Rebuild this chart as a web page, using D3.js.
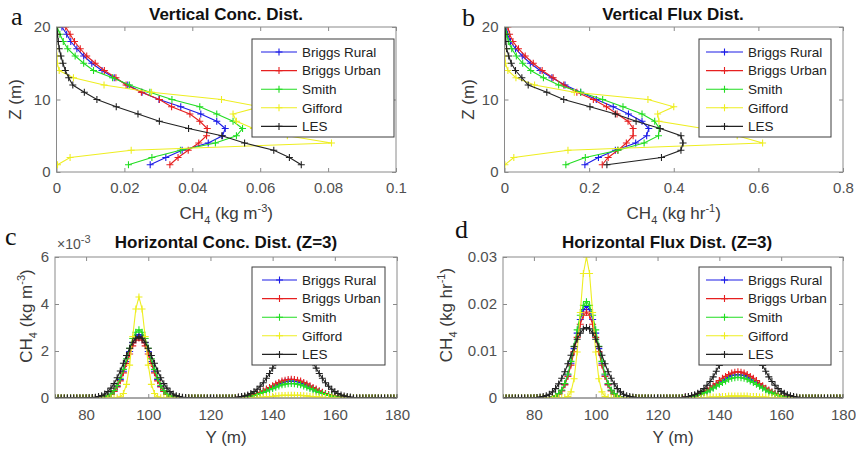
<!DOCTYPE html>
<html><head><meta charset="utf-8">
<script src="https://cdn.jsdelivr.net/npm/d3@7"></script>
<style>body{margin:0;background:#fff}svg{display:block}</style>
</head><body><svg id="chart" width="856" height="453"></svg>
<script>
// ---------- DATA ----------
const seriesNames = ["Briggs Rural", "Briggs Urban", "Smith", "Gifford", "LES"];
const seriesColors = ["#1c1ce6", "#e62020", "#22dd22", "#eeee22", "#222222"];

// Vertical profiles (Z in m)
const zLevels = [1,2,3,4,5,6,7,8,9,10,11,12,13,14,15,16,17,18,19,20];
const vConcRural  = [0.0276,0.0322,0.0370,0.0447,0.0489,0.0497,0.0472,0.0425,0.0366,0.0302,0.0252,0.0210,0.0170,0.0134,0.0104,0.0080,0.0060,0.0042,0.0030,0.0016];
const vConcUrban  = [0.0334,0.0358,0.0388,0.0419,0.0442,0.0444,0.0422,0.0393,0.0339,0.0303,0.0250,0.0205,0.0175,0.0141,0.0114,0.0089,0.0070,0.0053,0.0040,0.0027];
const vConcSmith  = [0.0212,0.0281,0.0365,0.0468,0.0530,0.0548,0.0520,0.0472,0.0422,0.0340,0.0275,0.0215,0.0165,0.0109,0.0080,0.0055,0.0033,0.0020,0.0010,0.0002];
const vConcGifford= [0.0003,0.0040,0.0220,0.0810,0.0680,0.0580,0.0530,0.0520,0.0600,0.0486,0.0280,0.0140,0.0050,0.0008,0.0002,0.0001,0,0,0,0];
const vConcLES    = [0.0721,0.0686,0.0640,0.0554,0.0487,0.0389,0.0303,0.0240,0.0176,0.0119,0.0082,0.0048,0.0036,0.0026,0.0019,0.0013,0.0008,0.0005,0.0003,0.0001];

const vFluxRural  = [0.190,0.222,0.262,0.310,0.336,0.341,0.325,0.293,0.257,0.217,0.180,0.143,0.112,0.084,0.061,0.042,0.026,0.014,0.007,0.003];
const vFluxUrban  = [0.231,0.245,0.268,0.288,0.304,0.304,0.292,0.266,0.241,0.210,0.171,0.140,0.115,0.089,0.068,0.049,0.033,0.020,0.012,0.008];
const vFluxSmith  = [0.145,0.191,0.268,0.330,0.364,0.366,0.355,0.325,0.280,0.232,0.180,0.128,0.092,0.062,0.043,0.028,0.017,0.009,0.005,0.002];
const vFluxGifford= [0.001,0.022,0.150,0.610,0.550,0.470,0.365,0.362,0.400,0.339,0.165,0.071,0.027,0.008,0.002,0.0005,0,0,0,0];
const vFluxLES    = [0.242,0.371,0.417,0.422,0.417,0.368,0.311,0.262,0.202,0.140,0.100,0.056,0.041,0.026,0.016,0.010,0.005,0.003,0.002,0.001];

// Horizontal profiles at Z=3 (Y in m, 70..180 step 1)
const yPositions = d3.range(70, 181, 1);
// concentration in units of 1e-3 kg m^-3
const hConcRural = [0,0,0,0,0,0,0,0,0,0, 0,0,0,0,0,.02,.04,.08,.16,.29, .49,.78,1.14,1.55,1.98,2.35,2.61,2.70,2.61,2.35, 1.98,1.55,1.14,.78,.49,.29,.16,.08,.04,.02, 0,0,0,0,0,0,0,0,0,0, 0,0,0,0,0,0,0,0,.02,.02, .03,.05,.07,.10,.13,.17,.22,.28,.34,.40, .47,.54,.60,.65,.69,.71,.72,.71,.69,.65, .60,.54,.47,.40,.34,.28,.22,.17,.13,.10, .07,.05,.03,.02,.02,0,0,0,0,0, 0,0,0,0,0,0,0,0,0,0, 0];
const hConcUrban = [0,0,0,0,0,0,0,0,0,0, 0,0,0,0,0,.02,.04,.08,.15,.28, .47,.73,1.07,1.47,1.87,2.22,2.46,2.55,2.46,2.22, 1.87,1.47,1.07,.73,.47,.28,.15,.08,.04,.02, 0,0,0,0,0,0,0,0,0,0, 0,0,0,0,0,0,0,0,.02,.03, .04,.06,.08,.11,.15,.19,.24,.31,.38,.45, .52,.60,.66,.72,.76,.79,.80,.79,.76,.72, .66,.60,.52,.45,.38,.31,.24,.19,.15,.11, .08,.06,.04,.03,.02,0,0,0,0,0, 0,0,0,0,0,0,0,0,0,0, 0];
const hConcSmith = [0,0,0,0,0,0,0,0,0,0, 0,0,0,0,0,.02,.04,.09,.17,.32, .53,.84,1.22,1.67,2.12,2.53,2.80,2.90,2.80,2.53, 2.12,1.67,1.22,.84,.53,.32,.17,.09,.04,.02, 0,0,0,0,0,0,0,0,0,0, 0,0,0,0,0,0,0,0,.01,.02, .03,.04,.06,.08,.11,.15,.19,.24,.29,.35, .40,.46,.51,.56,.59,.61,.62,.61,.59,.56, .51,.46,.40,.35,.29,.24,.19,.15,.11,.08, .06,.04,.03,.02,.01,0,0,0,0,0, 0,0,0,0,0,0,0,0,0,0, 0];
const hConcGifford = [0,0,0,0,0,0,0,0,0,0, 0,0,0,0,0,0,0,0,0,0, .01,.05,.19,.58,1.40,2.61,3.79,4.30,3.79,2.61, 1.40,.58,.19,.05,.01,0,0,0,0,0, 0,0,0,0,0,0,0,0,0,0, 0,0,0,0,0,0,0,0,0,0, 0,.01,.01,.01,.02,.02,.03,.04,.05,.06, .07,.09,.10,.11,.11,.12,.12,.12,.11,.11, .10,.09,.07,.06,.05,.04,.03,.02,.02,.01, .01,.01,0,0,0,0,0,0,0,0, 0,0,0,0,0,0,0,0,0,0, 0];
const hConcLES = [0,0,0,0,0,0,0,0,0,0, 0,.01,.02,.03,.06,.10,.17,.27,.42,.61, .86,1.15,1.48,1.81,2.12,2.37,2.54,2.60,2.54,2.37, 2.12,1.81,1.48,1.15,.86,.61,.42,.27,.17,.10, .06,.03,.02,.01,0,0,0,0,0,0, 0,0,0,0,0,0,0,0,0,.04, .06,.09,.13,.19,.27,.37,.50,.65,.84,1.04, 1.27,1.50,1.73,1.95,2.14,2.28,2.37,2.40,2.37,2.28, 2.14,1.95,1.73,1.50,1.27,1.04,.84,.65,.50,.37, .27,.19,.13,.09,.06,.04,0,0,0,0, 0,0,0,0,0,0,0,0,0,0, 0];

// flux in kg hr^-1
const hFluxRural = [0,0,0,0,0,0,0,0,0,0, 0,0,0,0,0,.0001,.0002,.0004,.0009,.0016, .0029,.0049,.0074,.0105,.0138,.0167,.0188,.0195,.0188,.0167, .0138,.0105,.0074,.0049,.0029,.0016,.0009,.0004,.0002,.0001, 0,0,0,0,0,0,0,0,0,0, 0,0,0,0,0,0,0,0,.0001,.0002, .0002,.0004,.0005,.0007,.0009,.0012,.0015,.0019,.0023,.0028, .0033,.0037,.0041,.0045,.0048,.0049,.0050,.0049,.0048,.0045, .0041,.0037,.0033,.0028,.0023,.0019,.0015,.0012,.0009,.0007, .0005,.0004,.0002,.0002,.0001,0,0,0,0,0, 0,0,0,0,0,0,0,0,0,0, 0];
const hFluxUrban = [0,0,0,0,0,0,0,0,0,0, 0,0,0,0,0,.0001,.0002,.0004,.0008,.0015, .0028,.0046,.0070,.0099,.0129,.0157,.0176,.0183,.0176,.0157, .0129,.0099,.0070,.0046,.0028,.0015,.0008,.0004,.0002,.0001, 0,0,0,0,0,0,0,0,0,0, 0,0,0,0,0,0,0,0,.0001,.0002, .0003,.0004,.0005,.0008,.0010,.0013,.0017,.0021,.0026,.0031, .0037,.0042,.0046,.0050,.0053,.0055,.0056,.0055,.0053,.0050, .0046,.0042,.0037,.0031,.0026,.0021,.0017,.0013,.0010,.0008, .0005,.0004,.0003,.0002,.0001,0,0,0,0,0, 0,0,0,0,0,0,0,0,0,0, 0];
const hFluxSmith = [0,0,0,0,0,0,0,0,0,0, 0,0,0,0,0,.0001,.0002,.0004,.0009,.0017, .0031,.0051,.0078,.0110,.0145,.0176,.0197,.0205,.0197,.0176, .0145,.0110,.0078,.0051,.0031,.0017,.0009,.0004,.0002,.0001, 0,0,0,0,0,0,0,0,0,0, 0,0,0,0,0,0,0,0,.0001,.0001, .0002,.0003,.0004,.0006,.0008,.0011,.0013,.0017,.0021,.0025, .0029,.0033,.0036,.0040,.0042,.0043,.0044,.0043,.0042,.0040, .0036,.0033,.0029,.0025,.0021,.0017,.0013,.0011,.0008,.0006, .0004,.0003,.0002,.0001,.0001,0,0,0,0,0, 0,0,0,0,0,0,0,0,0,0, 0];
const hFluxGifford = [0,0,0,0,0,0,0,0,0,0, 0,0,0,0,0,0,0,0,0,0, .0001,.0003,.0013,.0041,.0098,.0182,.0265,.0300,.0265,.0182, .0098,.0041,.0013,.0003,.0001,0,0,0,0,0, 0,0,0,0,0,0,0,0,0,0, 0,0,0,0,0,0,0,0,0,0, 0,0,0,.0001,.0001,.0001,.0001,.0002,.0002,.0002, .0003,.0003,.0003,.0004,.0004,.0004,.0004,.0004,.0004,.0004, .0003,.0003,.0003,.0002,.0002,.0002,.0001,.0001,.0001,.0001, 0,0,0,0,0,0,0,0,0,0, 0,0,0,0,0,0,0,0,0,0, 0];
const hFluxLES = [0,0,0,0,0,0,0,0,0,0, 0,.0001,.0002,.0003,.0005,.0008,.0013,.0020,.0030,.0042, .0056,.0073,.0091,.0109,.0125,.0138,.0147,.0150,.0147,.0138, .0125,.0109,.0091,.0073,.0056,.0042,.0030,.0020,.0013,.0008, .0005,.0003,.0002,.0001,0,0,0,0,0,0, 0,0,0,0,0,0,0,0,0,.0002, .0003,.0005,.0007,.0010,.0014,.0020,.0027,.0035,.0045,.0057, .0069,.0081,.0094,.0106,.0116,.0123,.0128,.0130,.0128,.0123, .0116,.0106,.0094,.0081,.0069,.0057,.0045,.0035,.0027,.0020, .0014,.0010,.0007,.0005,.0003,.0002,0,0,0,0, 0,0,0,0,0,0,0,0,0,0, 0];

// Tick values
const concTicks = [0, 0.02, 0.04, 0.06, 0.08, 0.1];
const fluxTicks = [0, 0.2, 0.4, 0.6, 0.8];
const zTicks = [0, 10, 20];
const yTicksH = [80, 100, 120, 140, 160, 180];
const hConcTicks = [0, 2, 4, 6];
const hFluxTicks = [0, 0.01, 0.02, 0.03];

// ---------- DRAWING ----------
const svg = d3.select("#chart");
const SANS = "Arial, 'Liberation Sans', Helvetica, sans-serif";
const AXIS_COL = "#8a8a8a";
const TICK_TXT = "#505050";
const LABEL_COL = "#3a3a3a";

function unitLabel(sel, unitMain, sup) {
  sel.append("tspan").text("CH");
  sel.append("tspan").attr("dy", 5).attr("font-size", "11px").text("4");
  sel.append("tspan").attr("dy", -5).text(" (kg " + unitMain);
  sel.append("tspan").attr("dy", -7).attr("font-size", "11px").text(sup);
  sel.append("tspan").attr("dy", 7).text(")");
}

function drawPanel(cfg, idx) {
  const g = svg.append("g");
  const x = d3.scaleLinear().domain(cfg.xDomain).range([cfg.x0, cfg.x1]);
  const y = d3.scaleLinear().domain(cfg.yDomain).range([cfg.y1, cfg.y0]);

  const clipId = "clip" + idx;
  svg.append("defs").append("clipPath").attr("id", clipId)
    .append("rect").attr("x", cfg.x0).attr("y", cfg.y0)
    .attr("width", cfg.x1 - cfg.x0).attr("height", cfg.y1 - cfg.y0);

  // axes with inward ticks
  const fmt = d => String(d);
  const ax = [
    g.append("g").attr("transform", `translate(0,${cfg.y1})`)
      .call(d3.axisBottom(x).tickValues(cfg.xTicks).tickSizeInner(-4).tickSizeOuter(0).tickPadding(cfg.xPad).tickFormat(fmt)),
    g.append("g").attr("transform", `translate(${cfg.x0},0)`)
      .call(d3.axisLeft(y).tickValues(cfg.yTicks).tickSizeInner(-4).tickSizeOuter(0).tickPadding(6).tickFormat(fmt)),
    g.append("g").attr("transform", `translate(0,${cfg.y0})`)
      .call(d3.axisTop(x).tickValues(cfg.xTicks).tickSizeInner(-4).tickSizeOuter(0).tickFormat("")),
    g.append("g").attr("transform", `translate(${cfg.x1},0)`)
      .call(d3.axisRight(y).tickValues(cfg.yTicks).tickSizeInner(-4).tickSizeOuter(0).tickFormat(""))
  ];
  ax.forEach(a => {
    a.select(".domain").remove();
    a.selectAll("line").attr("stroke", AXIS_COL);
    a.selectAll("text").attr("fill", TICK_TXT).attr("font-family", SANS).attr("font-size", "15px");
  });

  // zero line in horizontal panels
  if (cfg.orient === "h") {
    g.append("line").attr("x1", cfg.x0).attr("x2", cfg.x1)
      .attr("y1", y(0)).attr("y2", y(0)).attr("stroke", AXIS_COL).attr("stroke-width", 1);
  }

  // data
  const plot = g.append("g").attr("clip-path", `url(#${clipId})`);
  cfg.series.forEach((vals, si) => {
    const pts = cfg.orient === "v"
      ? vals.map((v, i) => [x(v), y(cfg.pos[i])])
      : vals.map((v, i) => [x(cfg.pos[i]), y(v)]);
    plot.append("path").attr("d", d3.line()(pts))
      .attr("fill", "none").attr("stroke", seriesColors[si]).attr("stroke-width", 1.1);
    plot.append("g").selectAll("path").data(pts).join("path")
      .attr("d", d => `M${d[0]-3.5},${d[1]}H${d[0]+3.5}M${d[0]},${d[1]-3.5}V${d[1]+3.5}`)
      .attr("stroke", seriesColors[si]).attr("stroke-width", 1.1).attr("fill", "none");
  });

  // frame
  g.append("rect").attr("x", cfg.x0).attr("y", cfg.y0)
    .attr("width", cfg.x1 - cfg.x0).attr("height", cfg.y1 - cfg.y0)
    .attr("fill", "none").attr("stroke", AXIS_COL).attr("stroke-width", 1);

  // legend
  const L = cfg.legend;
  const lg = g.append("g");
  lg.append("rect").attr("x", L.x).attr("y", L.y).attr("width", L.w).attr("height", L.h)
    .attr("fill", "#fff").attr("stroke", "#3c3c3c").attr("stroke-width", 1);
  seriesNames.forEach((name, i) => {
    const ry = L.row0 + i * 18.6;
    lg.append("line").attr("x1", L.l1).attr("x2", L.l2).attr("y1", ry).attr("y2", ry)
      .attr("stroke", seriesColors[i]).attr("stroke-width", 1.1);
    const mx = (L.l1 + L.l2) / 2;
    lg.append("path").attr("d", `M${mx-3.5},${ry}H${mx+3.5}M${mx},${ry-3.5}V${ry+3.5}`)
      .attr("stroke", seriesColors[i]).attr("stroke-width", 1.1);
    lg.append("text").attr("x", L.tx).attr("y", ry).attr("dy", "0.35em")
      .attr("font-family", SANS).attr("font-size", "13.5px").attr("fill", "#222").text(name);
  });

  // title
  g.append("text").attr("x", cfg.titleX).attr("y", cfg.titleY).attr("text-anchor", "middle")
    .attr("font-family", SANS).attr("font-weight", "bold").attr("font-size", "17px").attr("fill", "#111")
    .text(cfg.title);

  // panel letter
  g.append("text").attr("x", cfg.letterX).attr("y", cfg.letterY)
    .attr("font-family", "'Times New Roman', 'Liberation Serif', serif").attr("font-size", "26px").attr("fill", "#111")
    .text(cfg.letter);

  // x label
  const xl = g.append("text").attr("x", (cfg.x0 + cfg.x1) / 2).attr("y", cfg.xlabY).attr("text-anchor", "middle")
    .attr("font-family", SANS).attr("font-size", "17px").attr("fill", LABEL_COL);
  if (cfg.orient === "v") unitLabel(xl, cfg.unit, cfg.sup); else xl.text("Y (m)");

  // y label
  const yl = g.append("text").attr("transform", `translate(${cfg.ylabX},${cfg.ylabY}) rotate(-90)`)
    .attr("text-anchor", "middle").attr("font-family", SANS).attr("font-size", "17px").attr("fill", LABEL_COL);
  if (cfg.orient === "v") yl.text("Z (m)"); else unitLabel(yl, cfg.unit, cfg.sup);

  // exponent label
  if (cfg.exponent) {
    const et = g.append("text").attr("x", cfg.x0 + 2).attr("y", cfg.y0 - 8)
      .attr("font-family", SANS).attr("font-size", "14px").attr("fill", TICK_TXT);
    et.append("tspan").text("\u00d710");
    et.append("tspan").attr("dy", -6).attr("font-size", "11px").text("-3");
  }
}

const panels = [
  { orient: "v", x0: 56.5, x1: 396, y0: 27, y1: 172, xDomain: [0, 0.1], yDomain: [0, 20],
    xTicks: concTicks, yTicks: zTicks, xPad: 10, pos: zLevels,
    series: [vConcRural, vConcUrban, vConcSmith, vConcGifford, vConcLES],
    legend: { x: 252, y: 39, w: 142, h: 98, row0: 52, l1: 261, l2: 297, tx: 302 },
    title: "Vertical Conc. Dist.", titleX: 226, titleY: 20, letter: "a", letterX: 11, letterY: 25,
    xlabY: 219, ylabX: 21, ylabY: 99.5, unit: "m", sup: "-3" },
  { orient: "v", x0: 504.5, x1: 843, y0: 27, y1: 172, xDomain: [0, 0.8], yDomain: [0, 20],
    xTicks: fluxTicks, yTicks: zTicks, xPad: 10, pos: zLevels,
    series: [vFluxRural, vFluxUrban, vFluxSmith, vFluxGifford, vFluxLES],
    legend: { x: 699, y: 39, w: 132, h: 98, row0: 52, l1: 706, l2: 743, tx: 748 },
    title: "Vertical Flux Dist.", titleX: 673, titleY: 20, letter: "b", letterX: 462, letterY: 26,
    xlabY: 219, ylabX: 474, ylabY: 99.5, unit: "hr", sup: "-1" },
  { orient: "h", x0: 55, x1: 397, y0: 257, y1: 398, xDomain: [70, 180], yDomain: [0, 6],
    xTicks: yTicksH, yTicks: hConcTicks, xPad: 11, pos: yPositions,
    series: [hConcRural, hConcUrban, hConcSmith, hConcGifford, hConcLES],
    legend: { x: 252, y: 267, w: 133, h: 98, row0: 280, l1: 262, l2: 297, tx: 302 },
    title: "Horizontal Conc. Dist. (Z=3)", titleX: 226, titleY: 248, letter: "c", letterX: 5, letterY: 245,
    xlabY: 443, ylabX: 32, ylabY: 316, unit: "m", sup: "-3", exponent: true },
  { orient: "h", x0: 503, x1: 843, y0: 257, y1: 398, xDomain: [70, 180], yDomain: [0, 0.03],
    xTicks: yTicksH, yTicks: hFluxTicks, xPad: 11, pos: yPositions,
    series: [hFluxRural, hFluxUrban, hFluxSmith, hFluxGifford, hFluxLES],
    legend: { x: 699, y: 267, w: 132, h: 98, row0: 280, l1: 706, l2: 743, tx: 748 },
    title: "Horizontal Flux Dist. (Z=3)", titleX: 667, titleY: 248, letter: "d", letterX: 455, letterY: 238,
    xlabY: 443, ylabX: 452, ylabY: 315, unit: "hr", sup: "-1" }
];

panels.forEach((p, i) => drawPanel(p, i));
</script>
</body></html>
